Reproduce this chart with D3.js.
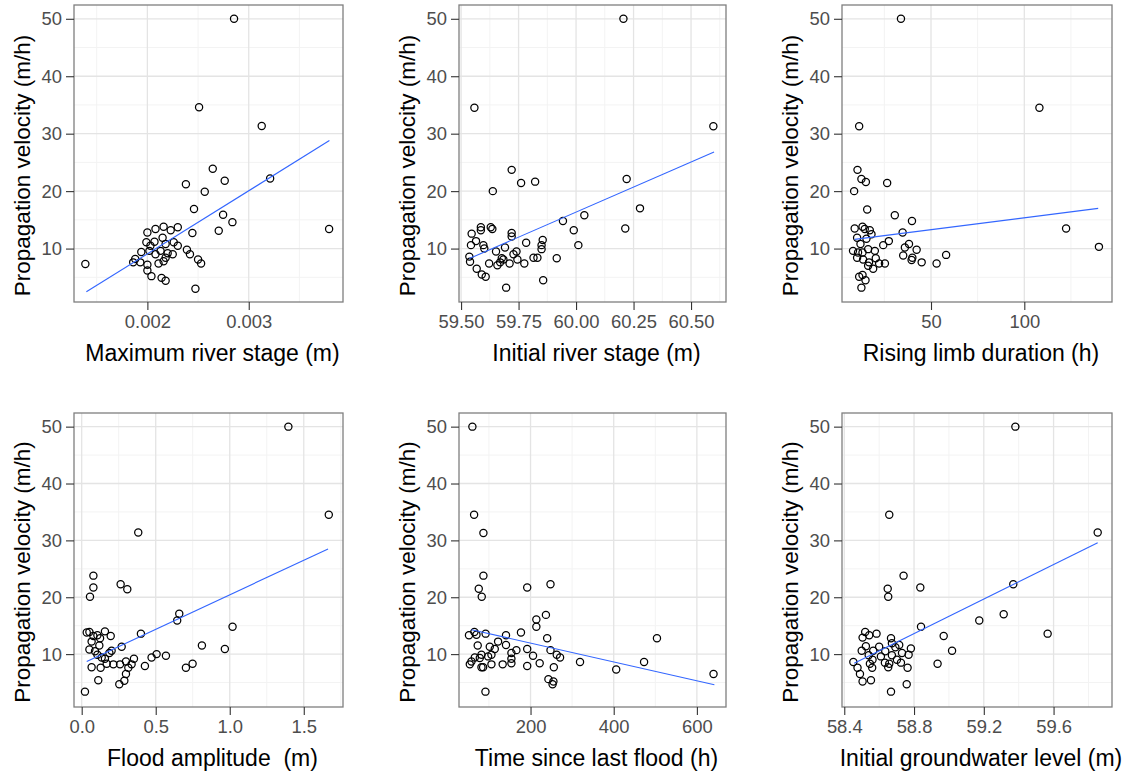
<!DOCTYPE html>
<html><head><meta charset="utf-8">
<script src="https://cdn.jsdelivr.net/npm/d3@7"></script>
<style>
body{margin:0;background:#fff;}
text{font-family:"Liberation Sans",Arial,sans-serif;}
</style></head>
<body><svg id="c" width="1130" height="780"></svg>
<script>
// ---- data ----
const yTitle = "Propagation velocity (m/h)";
const yTicks = [10, 20, 30, 40, 50];
const yMinor = [5, 15, 25, 35, 45];
const yDomain = [0.7, 52.4];

const xTitles = ["Maximum river stage (m)", "Initial river stage (m)", "Rising limb duration (h)",
                 "Flood amplitude  (m)", "Time since last flood (h)", "Initial groundwater level (m)"];
const xDomains = [[0.001276, 0.00393], [59.491, 60.652], [2.3, 147], [-0.052, 1.765], [28, 670], [58.387, 59.935]];
const xTicks = [[0.002, 0.003], [59.5, 59.75, 60.0, 60.25, 60.5], [50, 100], [0, 0.5, 1.0, 1.5], [200, 400, 600], [58.4, 58.8, 59.2, 59.6]];
const xTickLabels = [["0.002", "0.003"], ["59.50", "59.75", "60.00", "60.25", "60.50"], ["50", "100"], ["0.0", "0.5", "1.0", "1.5"], ["200", "400", "600"], ["58.4", "58.8", "59.2", "59.6"]];
const xMinor = [[0.0015, 0.0025, 0.0035], [59.625, 59.875, 60.125, 60.375, 60.625], [25, 75, 125], [0.25, 0.75, 1.25, 1.75], [100, 300, 500], [58.6, 59.0, 59.4, 59.8]];

const p1x = [0.002855,0.00251,0.003128,0.002645,0.002763,0.00238,0.003211,0.002566,0.00246,0.002747,0.002839,0.002704,0.003793,0.002444,0.001388,0.002474,
  0.002,0.00208,0.00216,0.00223,0.0023,0.00215,0.00199,0.00203,0.00207,0.00218,0.00226,0.0023,0.00239,0.00242,0.0025,0.00253,0.00194,0.00188,0.00186,0.00193,0.002,0.002,0.00204,0.00214,0.00218,0.00211,0.00218,0.0022,0.00208,0.00213,0.00225,0.00202,0.00216];
const p1y = [50,34.6,31.35,23.9,21.8,21.2,22.2,19.9,16.9,15.9,14.6,13.1,13.4,12.7,7.3,3.0,
  12.8,13.4,13.8,13.2,13.7,11.9,11.1,10.5,11.2,10.8,11.1,10.5,9.8,9.0,8.1,7.4,9.4,8.2,7.6,7.6,7.2,6.2,5.2,4.9,4.4,7.4,8.4,9.2,9.0,9.6,9.0,9.6,7.8];

const p2x = [60.206,59.558,60.597,59.72,59.761,59.822,60.22,59.638,60.278,60.036,59.943,60.214,59.99,60.01,59.783,59.855,
  59.85,59.85,59.832,59.815,59.916,59.857,59.696,59.72,59.72,59.586,59.586,59.629,59.636,59.546,59.543,59.565,59.597,59.601,59.536,59.539,59.568,59.59,59.607,
  59.622,59.658,59.67,59.684,59.691,59.652,59.711,59.728,59.741,59.745,59.775,59.677];
const p2y = [50,34.5,31.3,23.7,21.4,21.65,22.1,20.0,17.0,15.8,14.8,13.5,13.2,10.6,11.0,11.5,
  10.6,9.9,8.4,8.4,8.3,4.5,3.2,12.7,12.1,13.7,13.2,13.7,13.4,12.6,10.6,11.3,10.6,10.0,8.6,7.7,6.5,5.5,5.1,
  7.4,7.1,7.6,8.1,10.2,9.5,7.4,9.0,9.5,8.1,7.4,8.3];

const p3x = [33.9,108.1,11.5,10.6,12.7,15.1,26.5,8.8,15.8,30.6,39.8,122.4,140,34.8,27.4,24.4,58.1,53.0,45,39.6,42.3,38.2,36,35.1,40,25.3,22.2,
  9.1,13.3,14.5,17.2,18.1,10.4,15.4,12.2,8.2,10.9,13.3,16.3,19.9,10.4,13.6,16.8,19,11.5,13.3,14.9,12.7,16.3,20.4];
const p3y = [50,34.5,31.3,23.7,22.1,21.6,21.4,20.0,16.8,15.8,14.8,13.5,10.3,12.8,11.3,10.6,8.9,7.4,7.6,8.0,9.8,10.8,10.2,8.8,8.4,7.4,7.4,
  13.5,13.8,13.4,13.2,12.5,11.9,11.7,10.8,9.6,9.3,9.3,9.9,9.6,8.4,8.1,7.6,6.5,5.1,5.4,4.5,3.2,7.0,8.3];

const p4x = [1.396,1.669,0.382,0.079,0.079,0.056,0.263,0.308,0.659,0.645,1.019,0.4,0.812,0.967,0.506,0.472,0.569,0.749,0.704,0.427,0.353,0.022,0.112,0.254,0.288,
  0.034,0.052,0.079,0.106,0.157,0.196,0.119,0.052,0.09,0.106,0.135,0.187,0.202,0.157,0.169,0.214,0.259,0.27,0.067,0.128,0.299,0.315,0.299,0.337,0.124,0.067];
const p4y = [50,34.5,31.4,23.8,21.7,20.1,22.3,21.4,17.1,15.9,14.8,13.6,11.5,10.9,10.0,9.4,9.7,8.3,7.6,7.9,9.2,3.4,5.4,4.7,5.3,
  13.8,13.9,13.2,13.3,14.0,13.2,11.5,10.8,10.5,9.9,9.4,10.2,10.6,9.2,8.3,8.2,8.2,11.3,7.7,7.6,8.7,7.6,6.5,8.2,12.8,12.2];

const p5x = [60.2,64.3,86.7,86.7,75.5,82.7,192,248,237,214,214,504,240,473,406,640,319,91.6,243,255,253,256,271,263,248,222,206,192,192,177,141,141,166,154,154,154,133,
  92,65,52,70,122,102,114,106,98,82,73,66,58,54,82,86,106,78];
const p5y = [50,34.5,31.3,23.8,21.5,20.1,21.7,22.3,16.9,16.1,14.8,12.8,12.8,8.6,7.3,6.5,8.6,3.4,5.6,5.2,4.7,7.7,9.4,9.9,10.7,8.4,9.7,7.9,10.9,13.8,13.3,11.6,10.7,10.2,8.4,9.2,8.2,
  13.6,13.9,13.3,13.4,12.2,11.3,10.9,9.9,9.6,9.9,11.5,9.4,8.7,8.2,7.7,7.7,8.2,9.3];

const p6x = [59.381,58.658,59.853,59.369,58.74,58.649,58.652,58.836,59.314,59.174,59.566,58.84,58.97,59.018,58.935,58.758,58.668,58.505,58.553,58.452,58.476,58.49,
  58.52,58.505,58.543,58.585,58.5,58.524,58.566,58.54,58.562,58.547,58.56,58.61,58.635,58.633,58.652,58.658,58.668,58.673,58.693,58.715,58.731,58.702,58.725,58.763,58.769,58.782,58.673,58.6];
const p6y = [50,34.5,31.4,22.3,23.8,21.5,20.1,21.7,17.0,15.9,13.6,14.8,13.2,10.6,8.3,4.7,3.4,5.2,5.4,8.6,7.6,6.5,
  13.9,12.9,13.3,13.6,10.6,11.4,10.6,9.8,9.0,8.3,7.6,9.6,10.5,8.5,7.7,8.3,12.8,11.9,11.2,11.6,10.2,9.0,8.5,7.6,9.9,11.0,9.8,11.3];

// fitted regression lines (end points, data units)
const fitX = [[0.001398, 0.003796], [59.536, 60.6], [9.1, 139.6], [0.034, 1.664], [58, 642], [58.457, 59.853]];
const fitY = [[2.47, 28.8], [8.26, 26.8], [11.6, 17.0], [8.7, 28.5], [14.3, 4.6], [8.4, 29.6]];

const pointsX = [p1x, p2x, p3x, p4x, p5x, p6x];
const pointsY = [p1y, p2y, p3y, p4y, p5y, p6y];

// ---- layout ----
const colL = [74, 459, 842], colR = [343, 726, 1112];
const rowT = [5, 413], rowB = [302, 707];

const svg = d3.select("#c");

for (let i = 0; i < 6; i++) {
  const c = i % 3, r = Math.floor(i / 3);
  const L = colL[c], R = colR[c], T = rowT[r], B = rowB[r];
  const x = d3.scaleLinear().domain(xDomains[i]).range([L, R]);
  const y = d3.scaleLinear().domain(yDomain).range([B, T]);
  const g = svg.append("g");

  g.append("rect").attr("x", L).attr("y", T).attr("width", R - L).attr("height", B - T).attr("fill", "#fff");
  g.selectAll(".mx").data(xMinor[i].filter(v => x(v) > L && x(v) < R)).enter().append("line")
    .attr("x1", d => x(d)).attr("x2", d => x(d)).attr("y1", T).attr("y2", B)
    .attr("stroke", "#f3f3f3").attr("stroke-width", 1);
  g.selectAll(".my").data(yMinor).enter().append("line")
    .attr("x1", L).attr("x2", R).attr("y1", d => y(d)).attr("y2", d => y(d))
    .attr("stroke", "#f3f3f3").attr("stroke-width", 1);
  g.selectAll(".Mx").data(xTicks[i]).enter().append("line")
    .attr("x1", d => x(d)).attr("x2", d => x(d)).attr("y1", T).attr("y2", B)
    .attr("stroke", "#e4e4e4").attr("stroke-width", 1.3);
  g.selectAll(".My").data(yTicks).enter().append("line")
    .attr("x1", L).attr("x2", R).attr("y1", d => y(d)).attr("y2", d => y(d))
    .attr("stroke", "#e4e4e4").attr("stroke-width", 1.3);

  const pts = pointsX[i].map((v, k) => [v, pointsY[i][k]]);
  g.selectAll("circle").data(pts).enter().append("circle")
    .attr("cx", d => x(d[0])).attr("cy", d => y(d[1])).attr("r", 3.6)
    .attr("fill", "none").attr("stroke", "#000").attr("stroke-width", 1.25);

  const fit = fitX[i].map((v, k) => [v, fitY[i][k]]);
  g.append("path").datum(fit)
    .attr("d", d3.line().x(d => x(d[0])).y(d => y(d[1])))
    .attr("fill", "none").attr("stroke", "#3366FF").attr("stroke-width", 1.1);

  g.append("rect").attr("x", L).attr("y", T).attr("width", R - L).attr("height", B - T)
    .attr("fill", "none").attr("stroke", "#7f7f7f").attr("stroke-width", 1.3);

  const xa = g.append("g").attr("transform", `translate(0,${B})`)
    .call(d3.axisBottom(x).tickValues(xTicks[i]).tickFormat((d, k) => xTickLabels[i][k]).tickSize(8).tickPadding(5));
  const ya = g.append("g").attr("transform", `translate(${L},0)`)
    .call(d3.axisLeft(y).tickValues(yTicks).tickFormat(d3.format("d")).tickSize(8).tickPadding(4));
  [xa, ya].forEach(a => {
    a.select(".domain").remove();
    a.selectAll(".tick line").attr("stroke", "#333").attr("stroke-width", 1.1);
    a.selectAll(".tick text").attr("fill", "#4d4d4d").style("font-size", "18.4px").style("font-family", '"Liberation Sans",Arial,sans-serif');
  });

  g.append("text").attr("x", (L + R) / 2 + 4).attr("y", B + 59).attr("text-anchor", "middle")
    .style("font-size", "23px").style("white-space", "pre").attr("fill", "#000").text(xTitles[i]);
  g.append("text").attr("transform", `translate(${L - 44},${(T + B) / 2 + 12}) rotate(-90)`)
    .attr("text-anchor", "middle").style("font-size", "22.5px").attr("fill", "#000").text(yTitle);
}
</script></body></html>
